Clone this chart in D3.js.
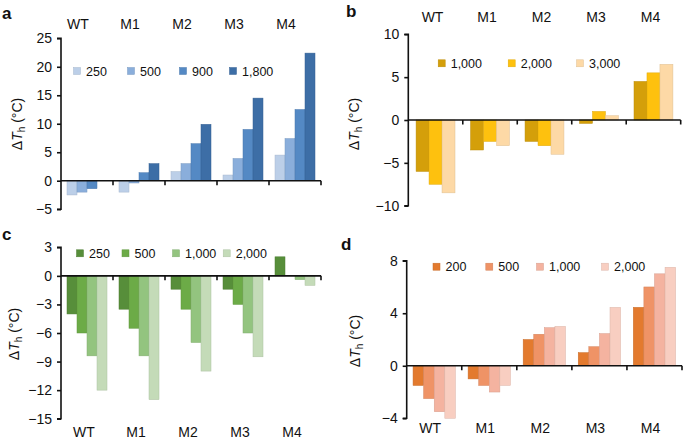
<!DOCTYPE html>
<html><head><meta charset="utf-8">
<script src="https://cdn.jsdelivr.net/npm/d3@7"></script>
<style>
body{margin:0;background:#fff;}
text{font-family:"Liberation Sans",Arial,Helvetica,sans-serif;fill:#111;}
</style></head>
<body><svg id="c" width="685" height="440"></svg>
<script>
const categories = ["WT","M1","M2","M3","M4"];

// Panel a
const seriesA = ["250","500","900","1,800"];
const a250  = [-2.5,-2.0, 1.6, 1.0, 4.5];
const a500  = [-2.0,-0.4, 3.0, 3.9, 7.4];
const a900  = [-1.4, 1.4, 6.5, 9.0,12.5];
const a1800 = [ 0.0, 3.0, 9.9,14.5,22.4];
const ticksA = [-5,0,5,10,15,20,25];
const colorsA = ["#bccfe8","#8aaedb","#5489c4","#3d6ea6"];

// Panel b
const seriesB = ["1,000","2,000","3,000"];
const b1000 = [-6.0,-3.5,-2.5,-0.4,4.5];
const b2000 = [-7.5,-2.5,-3.0, 1.0,5.5];
const b3000 = [-8.5,-3.0,-4.0, 0.5,6.5];
const ticksB = [-10,-5,0,5,10];
const colorsB = ["#d49f0a","#fec10e","#fdd9a6"];

// Panel c
const seriesC = ["250","500","1,000","2,000"];
const c250  = [-4.0, -3.5, -1.4,-1.4, 2.0];
const c500  = [-6.0, -5.5, -3.5,-3.0, 0.0];
const c1000 = [-8.4, -8.4, -7.0,-6.0,-0.4];
const c2000 = [-12.0,-13.0,-10.0,-8.5,-1.0];
const ticksC = [-15,-12,-9,-6,-3,0,3];
const colorsC = ["#578e3a","#6cab47","#93c47f","#c4dbb8"];

// Panel d
const seriesD = ["200","500","1,000","2,000"];
const d200  = [-1.5,-1.0,2.0,1.0,4.45];
const d500  = [-2.5,-1.5,2.4,1.45,6.0];
const d1000 = [-3.5,-2.0,2.9,2.45,7.0];
const d2000 = [-4.0,-1.5,3.0,4.45,7.5];
const ticksD = [-4,0,4,8];
const colorsD = ["#e37a2e","#ef9366","#f4b3a0","#f8cec1"];

const panels = [
  {id:"a", series:seriesA, values:[a250,a500,a900,a1800], ticks:ticksA, colors:colorsA,
   x0:61, x1:321, yTop:38.3, yBot:209.2, catPos:"top", catY:28.5, catOff:-9,
   legY:71, legX:[77,131,183,233], labX:2, labY:19, ylabX:17, ylabY:124},
  {id:"b", series:seriesB, values:[b1000,b2000,b3000], ticks:ticksB, colors:colorsB,
   x0:408.3, x1:680.7, yTop:34.3, yBot:205.7, catPos:"top", catY:21.5, catOff:-3,
   legY:63.3, legX:[441.7,511.7,580], labX:346, labY:17, ylabX:354, ylabY:124},
  {id:"c", series:seriesC, values:[c250,c500,c1000,c2000], ticks:ticksC, colors:colorsC,
   x0:61, x1:321, yTop:247.3, yBot:418.7, catPos:"bottom", catY:436.5, catOff:-3,
   legY:253.3, legX:[80,125.5,176,226.7], labX:2, labY:240, ylabX:14, ylabY:334},
  {id:"d", series:seriesD, values:[d200,d500,d1000,d2000], ticks:ticksD, colors:colorsD,
   x0:406.7, x1:682, yTop:260.7, yBot:418.3, catPos:"bottom", catY:433, catOff:-4,
   legY:266.7, legX:[436.5,489.3,540,605], labX:341, labY:250, ylabX:355, ylabY:341}
];

const svg = d3.select("#c");

panels.forEach(p => {
  const g = svg.append("g");
  const ext = d3.extent(p.ticks);
  const y = d3.scaleLinear().domain(ext).range([p.yBot, p.yTop]);
  const x = d3.scaleBand().domain(categories).range([p.x0, p.x1]).padding(0);
  const xs = d3.scaleBand().domain(p.series).range([0, x.bandwidth()]).paddingInner(0).paddingOuter(0.6);

  // bars
  p.series.forEach((s, si) => {
    g.append("g").selectAll("rect").data(categories.map((c,ci)=>({c, v:p.values[si][ci]})))
      .join("rect")
      .attr("x", d => x(d.c) + xs(s))
      .attr("width", xs.bandwidth())
      .attr("y", d => y(Math.max(0,d.v)))
      .attr("height", d => Math.abs(y(d.v) - y(0)))
      .attr("fill", p.colors[si])
      .attr("stroke", d3.color(p.colors[si]).darker(0.35))
      .attr("stroke-width", 0.5);
  });

  // y axis
  const ya = g.append("g").attr("transform", `translate(${p.x0},0)`)
    .call(d3.axisLeft(y).tickValues(p.ticks).tickSize(4).tickPadding(5)
      .tickFormat(d => d < 0 ? "\u2212" + Math.abs(d) : d));
  ya.select(".domain").attr("d", `M-4,${p.yTop}H0V${p.yBot}H-4`).attr("stroke","#111").attr("stroke-width",1.6);
  ya.selectAll(".tick line").attr("stroke","#111").attr("stroke-width",1.6);
  ya.selectAll(".tick text").style("font-size","14px").attr("fill","#111")
    .style("font-family","'Liberation Sans',Arial,sans-serif");

  // x axis at zero
  const xa = g.append("g").attr("transform", `translate(0,${y(0)})`);
  xa.append("line").attr("x1", p.x0).attr("x2", p.x1).attr("stroke","#111").attr("stroke-width",1.6);
  categories.forEach(c => {
    const xt = x(c) + x.bandwidth();
    xa.append("line").attr("x1", xt).attr("x2", xt).attr("y1", 0).attr("y2", 4.5)
      .attr("stroke","#111").attr("stroke-width",1.6);
  });

  // category labels
  g.append("g").selectAll("text").data(categories).join("text")
    .attr("x", c => x(c) + x.bandwidth()/2 + p.catOff)
    .attr("y", p.catY)
    .attr("text-anchor","middle")
    .style("font-size","14px")
    .text(c => c);

  // legend
  const lg = g.append("g");
  p.series.forEach((s, si) => {
    lg.append("rect").attr("x", p.legX[si]-3.5).attr("y", p.legY-3.5).attr("width",7).attr("height",7)
      .attr("fill", p.colors[si]).attr("stroke", d3.color(p.colors[si]).darker(0.35)).attr("stroke-width",0.5);
    lg.append("text").attr("x", p.legX[si]+9).attr("y", p.legY).attr("dy","0.36em")
      .style("font-size","12.5px").text(s);
  });

  // panel label
  g.append("text").attr("x", p.labX).attr("y", p.labY).style("font-size","17px").style("font-weight","bold").text(p.id);

  // y axis title
  const t = g.append("text").attr("transform", `translate(${p.ylabX},${p.ylabY}) rotate(-90)`)
    .attr("text-anchor","middle").attr("dy","0.35em").style("font-size","14px");
  t.append("tspan").text("\u0394");
  t.append("tspan").style("font-style","italic").text("T");
  t.append("tspan").attr("baseline-shift","-25%").style("font-size","10px").text("h");
  t.append("tspan").text(" (\u00B0C)");
});
</script></body></html>
